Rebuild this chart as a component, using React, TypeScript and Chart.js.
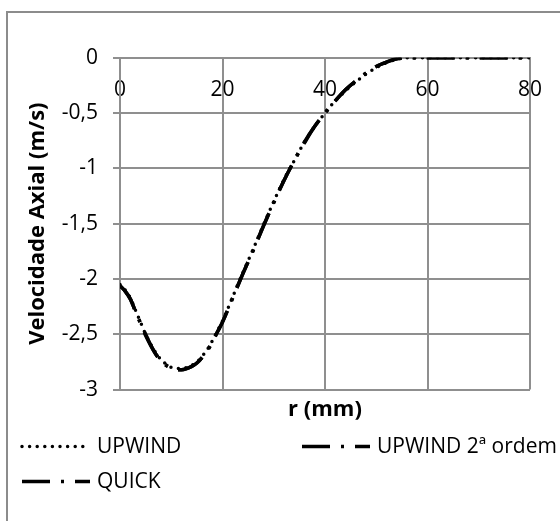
import { useEffect, useRef } from 'react';
import { Chart, registerables } from 'chart.js';

Chart.register(...registerables);

// Raio (mm)
const raio = [0, 1, 2, 3, 4, 5, 6, 7, 8, 9, 10, 11, 12, 13, 14, 15, 16, 17, 18, 19, 20, 22, 24, 26, 28, 30, 32, 34, 36, 38, 40, 42, 44, 46, 48, 50, 52, 54, 56, 60, 65, 70, 75, 80];

// Velocidade axial (m/s) por esquema de interpolação
const upwind = [-2.05, -2.1, -2.17, -2.28, -2.39, -2.5, -2.59, -2.67, -2.73, -2.77, -2.8, -2.81, -2.81, -2.8, -2.78, -2.75, -2.7, -2.64, -2.56, -2.47, -2.38, -2.16, -1.94, -1.73, -1.51, -1.3, -1.1, -0.93, -0.76, -0.62, -0.5, -0.39, -0.3, -0.22, -0.15, -0.09, -0.045, -0.015, 0, 0, 0, 0, 0, 0];
const upwind2 = [-2.06, -2.11, -2.18, -2.29, -2.4, -2.5, -2.6, -2.68, -2.74, -2.78, -2.8, -2.82, -2.82, -2.81, -2.79, -2.76, -2.71, -2.65, -2.57, -2.48, -2.39, -2.17, -1.95, -1.74, -1.52, -1.31, -1.11, -0.93, -0.76, -0.62, -0.5, -0.39, -0.29, -0.21, -0.14, -0.08, -0.04, -0.01, 0, 0, 0, 0, 0, 0];
const quick = [-2.06, -2.11, -2.18, -2.29, -2.4, -2.51, -2.6, -2.68, -2.74, -2.78, -2.81, -2.82, -2.82, -2.81, -2.79, -2.76, -2.71, -2.65, -2.57, -2.48, -2.39, -2.17, -1.95, -1.74, -1.52, -1.31, -1.11, -0.93, -0.77, -0.62, -0.5, -0.39, -0.29, -0.21, -0.14, -0.08, -0.04, -0.01, 0, 0, 0, 0, 0, 0];

const nomesSeries = ['UPWIND', 'UPWIND 2ª ordem', 'QUICK'];

const FONTE = "'Open Sans', 'Liberation Sans', sans-serif";
const COR_GRADE = '#8f8f8f';

const pontos = (ys: number[]) => raio.map((x, i) => ({ x, y: ys[i] }));

// Legenda em duas colunas, desenhada abaixo do título do eixo horizontal
const legendaColunas = {
  id: 'legendaColunas',
  afterDraw(chart: any) {
    const { ctx, chartArea } = chart;
    const posicoes = [
      { x: 14, dy: 57 },
      { x: 294, dy: 57 },
      { x: 14, dy: 92 },
    ];
    const comprimento = 68;
    ctx.save();
    chart.data.datasets.forEach((ds: any, i: number) => {
      const p = posicoes[i];
      if (!p) return;
      const y = chartArea.bottom + p.dy;
      ctx.beginPath();
      ctx.setLineDash(ds.borderDash || []);
      ctx.lineCap = ds.borderCapStyle || 'butt';
      ctx.lineWidth = ds.borderWidth;
      ctx.strokeStyle = ds.borderColor;
      ctx.moveTo(p.x, y);
      ctx.lineTo(p.x + comprimento, y);
      ctx.stroke();
      ctx.setLineDash([]);
      ctx.fillStyle = '#000';
      ctx.font = `21px ${FONTE}`;
      ctx.textBaseline = 'middle';
      ctx.textAlign = 'left';
      ctx.fillText(ds.label, p.x + 75, y);
    });
    ctx.restore();
  },
};

export default function App() {
  const ref = useRef<HTMLCanvasElement | null>(null);

  useEffect(() => {
    if (!ref.current) return;
    const traco = [28, 11, 3, 11];
    const linha = {
      borderColor: '#000',
      borderWidth: 3.5,
      pointRadius: 0,
      cubicInterpolationMode: 'monotone',
      fill: false,
    };
    const chart = new Chart(ref.current, {
      type: 'line',
      data: {
        datasets: [
          {
            ...linha,
            label: nomesSeries[0],
            data: pontos(upwind),
            borderDash: [0, 7.6],
            borderCapStyle: 'round',
          },
          {
            ...linha,
            label: nomesSeries[1],
            data: pontos(upwind2),
            borderDash: traco,
            borderCapStyle: 'butt',
          },
          {
            ...linha,
            label: nomesSeries[2],
            data: pontos(quick),
            borderDash: traco,
            borderCapStyle: 'butt',
          },
        ],
      },
      options: {
        responsive: false,
        animation: false,
        events: [],
        layout: { padding: { top: 44.7, left: 0, right: 78, bottom: 130 } },
        scales: {
          x: {
            type: 'linear',
            min: 0,
            max: 80,
            position: { y: 0 },
            ticks: {
              stepSize: 20,
              padding: 20,
              maxRotation: 0,
              color: '#000',
              font: { family: FONTE, size: 21 },
            },
            grid: { color: COR_GRADE, lineWidth: 2, drawTicks: false },
            border: { color: COR_GRADE, width: 2 },
          },
          y: {
            type: 'linear',
            min: -3,
            max: 0,
            position: 'left',
            ticks: {
              stepSize: 0.5,
              padding: 15,
              color: '#000',
              font: { family: FONTE, size: 21 },
              callback: (v: any) => String(v).replace('.', ','),
            },
            grid: { color: COR_GRADE, lineWidth: 2, tickLength: 7 },
            border: { color: COR_GRADE, width: 2 },
            title: {
              display: true,
              text: 'Velocidade Axial (m/s)',
              color: '#000',
              font: { family: FONTE, size: 22, weight: 'bold' },
              padding: { top: 17, bottom: 0 },
            },
            afterFit: (s: any) => {
              s.width = 112;
            },
          },
        },
        plugins: {
          legend: { display: false },
          tooltip: { enabled: false },
          title: {
            display: true,
            text: 'r (mm)',
            position: 'bottom',
            fullSize: false,
            color: '#000',
            font: { family: FONTE, size: 22, weight: 'bold' },
            padding: { top: 7, bottom: 0 },
          },
        },
      },
      plugins: [legendaColunas],
    } as any);
    return () => chart.destroy();
  }, []);

  return (
    <div
      style={{
        position: 'fixed',
        left: 0,
        top: 0,
        width: 560,
        height: 521,
        overflow: 'hidden',
        background: '#fff',
      }}
    >
      <div
        style={{
          position: 'absolute',
          left: 6,
          top: 11,
          width: 600,
          height: 540,
          border: '2px solid #8c8c8c',
          background: '#fff',
        }}
      >
        <canvas ref={ref} width={600} height={540} style={{ display: 'block' }} />
      </div>
    </div>
  );
}
